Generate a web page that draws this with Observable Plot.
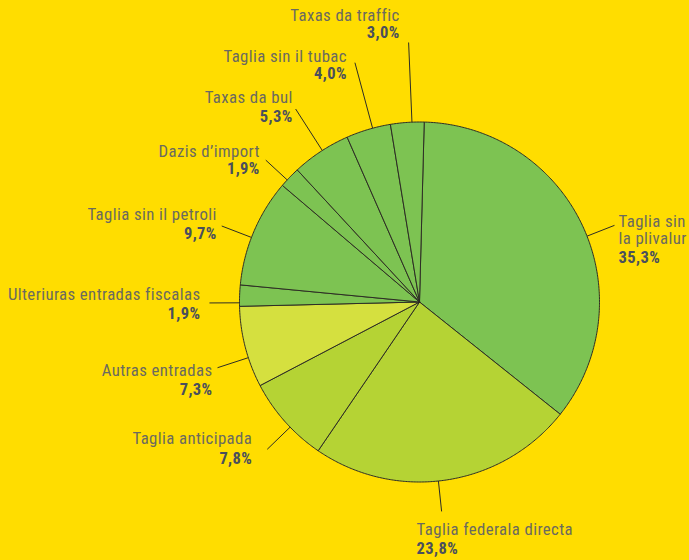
<!DOCTYPE html>
<html><head><meta charset="utf-8">
<script src="https://cdn.jsdelivr.net/npm/d3@7"></script>
<script src="https://cdn.jsdelivr.net/npm/@observablehq/plot@0.6"></script>
<style>html,body{margin:0;padding:0;background:#FFDD00;overflow:hidden}</style>
</head><body><div id="chart"></div>
<script>
// ---- data ----
const names = ["Taglia sin\nla plivalur", "Taglia federala directa", "Taglia anticipada", "Autras entradas",
  "Ulteriuras entradas fiscalas", "Taglia sin il petroli", "Dazis d’import", "Taxas da bul",
  "Taglia sin il tubac", "Taxas da traffic"];
const values = [35.3, 23.8, 7.8, 7.3, 1.9, 9.7, 1.9, 5.3, 4.0, 3.0];
const pctLabels = ["35,3%", "23,8%", "7,8%", "7,3%", "1,9%", "9,7%", "1,9%", "5,3%", "4,0%", "3,0%"];
const colors = ["#7DC352", "#B5D334", "#B5D334", "#D5E03F", "#7DC352", "#7DC352", "#7DC352", "#7DC352", "#7DC352", "#7DC352"];

// ---- layout (not data) ----
const startAngle = 1.5;                 // degrees clockwise from top
const leaderNudge = [3.5, 2.55, -2.35, -3.5, -2.3, -1.9, -1.1, 0.55, 1.4, 1.5];
const leaderLen = [1.164, 1.17, 1.177, 1.18, 1.167, 1.177, 1.162, 1.274, 1.377, 1.443];
// [dx, dy of first name line, dy of percentage, anchor]
const labelOffsets = [
  [4, -4, 32, "start"], [-25, 18, 37, "start"], [-15, -11, 9, "end"], [-5, 3, 22, "end"],
  [-9, -8, 11, "end"], [-5, -11, 8, "end"], [-6, -9, 9, "end"], [-3, -11, 8, "end"],
  [-8, -6, 11, "end"], [-9, -27, -10, "end"]
];
const lineGap = 17.5;

const rad = d => d * Math.PI / 180;
const pol = (a, r) => ({x: r * Math.sin(rad(a)), y: r * Math.cos(rad(a))});

let acc = 0;
const slices = values.map((v, i) => {
  const a0 = startAngle + acc * 3.6; acc += v; const a1 = startAngle + acc * 3.6;
  return {i, a0, a1, mid: (a0 + a1) / 2};
});

const piePts = [];
slices.forEach(s => {
  piePts.push({slice: s.i, color: colors[s.i], x: 0, y: 0});
  const n = Math.max(2, Math.ceil((s.a1 - s.a0) / 0.5));
  for (let k = 0; k <= n; k++) {
    const p = pol(s.a0 + (s.a1 - s.a0) * k / n, 1);
    piePts.push({slice: s.i, color: colors[s.i], ...p});
  }
  piePts.push({slice: s.i, color: colors[s.i], x: 0, y: 0});
});

const leaders = slices.map(s => {
  const a = s.mid + leaderNudge[s.i];
  const p1 = pol(a, 1), p2 = pol(a, leaderLen[s.i]);
  return {x1: p1.x, y1: p1.y, x2: p2.x, y2: p2.y, i: s.i};
});

const font = "'Roboto Condensed', 'Liberation Sans Narrow', 'DejaVu Sans Condensed', sans-serif";
const textMarks = [];
leaders.forEach(l => {
  const [dx, dyN, dyP, anchor] = labelOffsets[l.i];
  names[l.i].split("\n").forEach((line, k) => {
    textMarks.push(Plot.text([{x: l.x2, y: l.y2, t: line}], {
      x: "x", y: "y", text: "t", dx, dy: dyN + k * lineGap, textAnchor: anchor,
      fill: "#6b6a5f", fontSize: 16.8, fontFamily: font, ariaLabel: `lbl name ${anchor}`
    }));
  });
  textMarks.push(Plot.text([{x: l.x2, y: l.y2, t: pctLabels[l.i]}], {
    x: "x", y: "y", text: "t", dx, dy: dyP, textAnchor: anchor,
    fill: "#4a4f5c", fontSize: 16.5, fontWeight: "bold", fontFamily: font, ariaLabel: `lbl pct ${anchor}`
  }));
});

const chart = Plot.plot({
  width: 689, height: 560, margin: 0,
  x: {domain: [-419 / 180, 270 / 180], axis: null},
  y: {domain: [-258.5 / 180, 301.5 / 180], axis: null},
  color: {type: "identity"},
  style: {background: "#FFDD00", fontFamily: font, overflow: "visible"},
  marks: [
    Plot.line(piePts, {x: "x", y: "y", z: "slice", fill: "color", stroke: "#2d2d26", strokeWidth: 1, strokeLinejoin: "round", curve: "linear"}),
    Plot.link(leaders, {x1: "x1", y1: "y1", x2: "x2", y2: "y2", stroke: "#2d2d26", strokeWidth: 1}),
    ...textMarks
  ]
});
chart.style.letterSpacing = "0.4px";
document.getElementById("chart").append(chart);

// slightly narrow the bold percentages to match the original's tighter figures
chart.querySelectorAll('g[aria-label^="lbl pct"]').forEach(g => {
  const anchor = g.getAttribute("aria-label").split(" ")[2];
  const s = 0.9;
  g.querySelectorAll("text").forEach(t => {
    const w = document.createElementNS("http://www.w3.org/2000/svg", "g");
    t.parentNode.insertBefore(w, t); w.appendChild(t);
    const b = w.getBBox();
    const ox = anchor === "end" ? b.x + b.width : b.x;
    w.setAttribute("transform", `translate(${ox},0) scale(${s},1) translate(${-ox},0)`);
  });
});
</script></body></html>
